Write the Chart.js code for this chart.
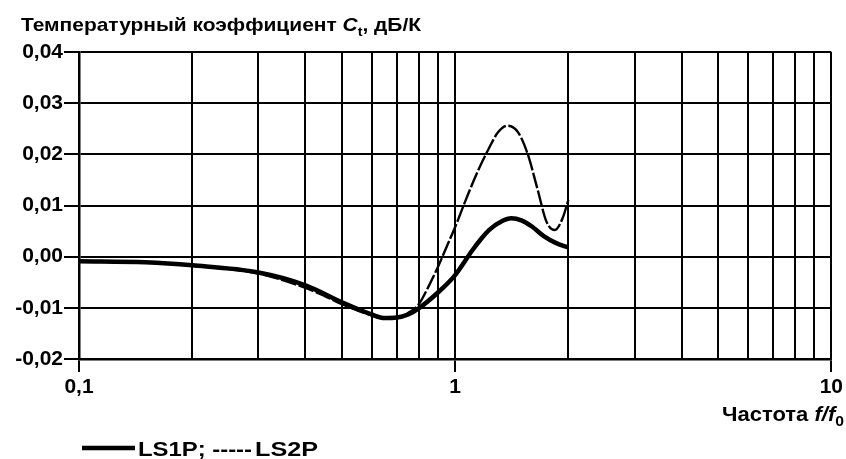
<!DOCTYPE html>
<html>
<head>
<meta charset="utf-8">
<script src="https://cdn.jsdelivr.net/npm/chart.js@4"></script>
<style>
  html, body { margin: 0; padding: 0; background: #fff; }
  #wrap { width: 846px; height: 459px; position: relative; }
</style>
</head>
<body>
<div id="wrap"><canvas id="coefChart"></canvas></div>
<script>
// LS1P (solid) — frequency f/f0 and temperature coefficient Ct, dB/K
const ls1pFreq = [0.1, 0.15, 0.2, 0.3, 0.4, 0.5, 0.6, 0.65, 0.7, 0.75, 0.8, 0.9, 1.0, 1.11, 1.17, 1.23, 1.33, 1.41, 1.5, 1.6, 1.72, 1.85, 2.0];
const ls1pCoef = [-0.0009, -0.0011, -0.0017, -0.0031, -0.0056, -0.0089, -0.0113, -0.0120, -0.0119, -0.0113, -0.0101, -0.0070, -0.0036, 0.0012, 0.0034, 0.0052, 0.0069, 0.0075, 0.0071, 0.0059, 0.0040, 0.0027, 0.0018];

// LS2P (dashed)
const ls2pFreq = [0.1, 0.15, 0.2, 0.3, 0.4, 0.45, 0.5, 0.6, 0.65, 0.7, 0.75, 0.8, 0.85, 0.9, 0.95, 1.0, 1.07, 1.15, 1.23, 1.3, 1.38, 1.47, 1.56, 1.65, 1.75, 1.84, 1.93, 2.0];
const ls2pCoef = [-0.0009, -0.0011, -0.0018, -0.0033, -0.0061, -0.0077, -0.0093, -0.0115, -0.0121, -0.0119, -0.0110, -0.0093, -0.0058, -0.0020, 0.0020, 0.0058, 0.0113, 0.0168, 0.0212, 0.0243, 0.0256, 0.0243, 0.0200, 0.0136, 0.0068, 0.0052, 0.0075, 0.0111];

// axes
const xGridValues = [0.1, 0.2, 0.3, 0.4, 0.5, 0.6, 0.7, 0.8, 0.9, 1, 2, 3, 4, 5, 6, 7, 8, 9, 10];
const xLabeled = [0.1, 1, 10];
const xTickLabels = ['0,1', '1', '10'];
const yTickValues = [-0.02, -0.01, 0, 0.01, 0.02, 0.03, 0.04];
const yTickLabels = ['-0,02', '-0,01', '0,00', '0,01', '0,02', '0,03', '0,04'];

const FONT = 'Liberation Sans';

function toPoints(xs, ys) {
    return xs.map((x, i) => ({ x: x, y: ys[i] }));
}

// draws mixed text (italic / subscript parts) squeezed or stretched to a given width
function drawRich(ctx, parts, x, baseline, width, size, align) {
    const fontFor = p => (p.italic ? 'italic ' : '') + 'bold ' + (p.sub ? Math.round(size * 0.7) : size) + 'px "' + FONT + '"';
    let natural = 0;
    parts.forEach(p => { ctx.font = fontFor(p); natural += ctx.measureText(p.text).width; });
    const sx = width / natural;
    ctx.save();
    ctx.translate(align === 'right' ? x - width : x, baseline);
    ctx.scale(sx, 1);
    ctx.fillStyle = '#000';
    ctx.textAlign = 'left';
    ctx.textBaseline = 'alphabetic';
    let cx = 0;
    parts.forEach(p => {
        ctx.font = fontFor(p);
        ctx.fillText(p.text, cx, p.sub ? size * 0.25 : 0);
        cx += ctx.measureText(p.text).width;
    });
    ctx.restore();
}

const annotations = {
    id: 'annotations',
    afterDraw(chart) {
        const ctx = chart.ctx;
        drawRich(ctx, [
            { text: 'Температурный коэффициент ' },
            { text: 'C', italic: true },
            { text: 't', sub: true },
            { text: ', дБ/К' }
        ], 21, 31, 400, 19, 'left');

        drawRich(ctx, [
            { text: 'Частота ' },
            { text: 'f/f', italic: true },
            { text: '0', sub: true }
        ], 844, 421, 122, 21, 'right');

        // legend
        const ds = chart.data.datasets;
        ctx.save();
        ctx.strokeStyle = '#000';
        ctx.lineWidth = 4.5;
        ctx.beginPath();
        ctx.moveTo(82, 448);
        ctx.lineTo(135, 448);
        ctx.stroke();
        ctx.restore();
        drawRich(ctx, [{ text: ds[0].label + '; -----' }], 138, 456, 114, 21, 'left');
        drawRich(ctx, [{ text: ds[1].label }], 255, 456, 63, 21, 'left');
    }
};

new Chart(document.getElementById('coefChart'), {
    type: 'line',
    data: {
        datasets: [{
            label: 'LS1P',
            data: toPoints(ls1pFreq, ls1pCoef),
            borderColor: '#000',
            borderWidth: 4.5,
            pointRadius: 0,
            cubicInterpolationMode: 'monotone',
            fill: false
        }, {
            label: 'LS2P',
            data: toPoints(ls2pFreq, ls2pCoef),
            borderColor: '#000',
            borderWidth: 2.4,
            borderDash: [16, 2.5],
            pointRadius: 0,
            cubicInterpolationMode: 'monotone',
            fill: false
        }]
    },
    options: {
        responsive: true,
        maintainAspectRatio: false,
        animation: false,
        layout: { padding: { top: 52, right: 14, left: 0, bottom: 0 } },
        plugins: { legend: { display: false }, tooltip: { enabled: false } },
        scales: {
            x: {
                type: 'logarithmic',
                min: 0.1,
                max: 10,
                afterBuildTicks: s => { s.ticks = xGridValues.map(v => ({ value: v })); },
                afterFit: s => { s.height = 100; },
                grid: {
                    color: '#000',
                    lineWidth: 2,
                    tickLength: 13,
                    tickColor: c => (c.tick && xLabeled.includes(c.tick.value)) ? '#000' : 'rgba(0,0,0,0)'
                },
                border: { color: '#000', width: 2.5 },
                ticks: {
                    autoSkip: false,
                    maxRotation: 0,
                    padding: 3,
                    color: '#000',
                    font: { family: FONT, size: 21, weight: 'bold' },
                    callback: v => {
                        const i = xLabeled.indexOf(v);
                        return i >= 0 ? xTickLabels[i] : '';
                    }
                }
            },
            y: {
                min: -0.02,
                max: 0.04,
                afterBuildTicks: s => { s.ticks = yTickValues.map(v => ({ value: v })); },
                afterFit: s => { s.width = 79; },
                grid: { color: '#000', lineWidth: 2, tickLength: 15, tickColor: '#000' },
                border: { color: '#000', width: 2.5 },
                ticks: {
                    padding: 1,
                    color: '#000',
                    font: { family: FONT, size: 21, weight: 'bold' },
                    callback: v => yTickLabels[yTickValues.indexOf(v)]
                }
            }
        }
    },
    plugins: [annotations]
});
</script>
</body>
</html>
